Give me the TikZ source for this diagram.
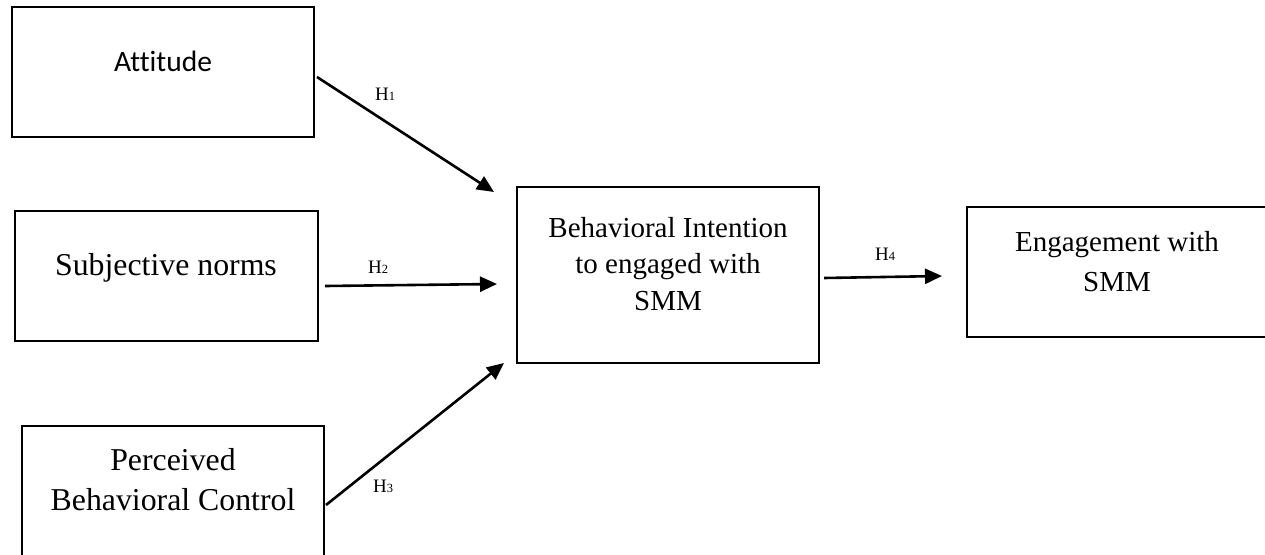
\documentclass[tikz,border=0pt]{standalone}
\usepackage{fontspec}
\setmainfont{Liberation Serif}
\newfontfamily\calibrifont[Ligatures=NoCommon]{Carlito}
\usetikzlibrary{arrows.meta,calc}
\tikzset{
  boxnode/.style={draw=black, line width=2pt, rectangle, inner sep=0pt, fill=none},
  arr/.style={line width=2.6pt, -{Triangle[length=17pt,width=15pt]}},
  txt/.style={inner sep=0pt, align=center},
  hlab/.style={inner sep=0pt, anchor=base west, font=\fontsize{19}{21}\selectfont}
}
\newcommand{\hsub}[1]{H{\fontsize{12.5}{12.5}\selectfont #1}}
\begin{document}
\begin{tikzpicture}[x=1pt,y=-1pt]
\useasboundingbox (0,0) rectangle (1265,554);
\fill[white] (0,0) rectangle (1265,554);
\clip (0,0) rectangle (1265,554);
% boxes
\node[boxnode, minimum width=302pt, minimum height=130pt] (att) at (163,72) {};
\node[boxnode, minimum width=303pt, minimum height=130pt] (sub) at (166.5,276) {};
\node[boxnode, minimum width=302pt, minimum height=130pt] (pbc) at (173,491) {};
\node[boxnode, minimum width=302pt, minimum height=176pt] (bi) at (668,275) {};
\node[boxnode, minimum width=300pt, minimum height=130pt] (eng) at (1117,272) {};
% texts
\node[txt, anchor=base, font=\calibrifont\fontsize{29.5}{34}\selectfont] (attT) at (163,71) {Attitude};
\node[txt, anchor=base, font=\fontsize{31.8}{38}\selectfont] (subT) at (166,275) {Subjective norms};
\node[txt, font=\fontsize{31.8}{39.5}\selectfont] (pbcT) at (173,479.7) {Perceived\\Behavioral Control};
\node[txt, font=\fontsize{29}{36.5}\selectfont] (biT) at (668,263.7) {Behavioral Intention\\to engaged with\\SMM};
\node[txt, font=\fontsize{29}{40}\selectfont] (engT) at (1117,261.2) {Engagement with\\SMM};
% arrows
\draw[arr] ($(att.east)+(2,5)$) -- ($(bi.north west)+(-22,6)$);
\draw[arr] ($(sub.east)+(6,10)$) -- ($(bi.west)+(-19,9)$);
\draw[arr] ($(pbc.east)+(1,14)$) -- ($(bi.south west)+(-12,-1)$);
\draw[arr] ($(bi.east)+(4,3)$) -- ($(eng.west)+(-24,4)$);
% labels
\node[hlab] (h1) at (375,100) {\hsub{1}};
\node[hlab] (h2) at (368,273) {\hsub{2}};
\node[hlab] (h3) at (373,492) {\hsub{3}};
\node[hlab] (h4) at (875,260) {\hsub{4}};
\end{tikzpicture}
\end{document}
